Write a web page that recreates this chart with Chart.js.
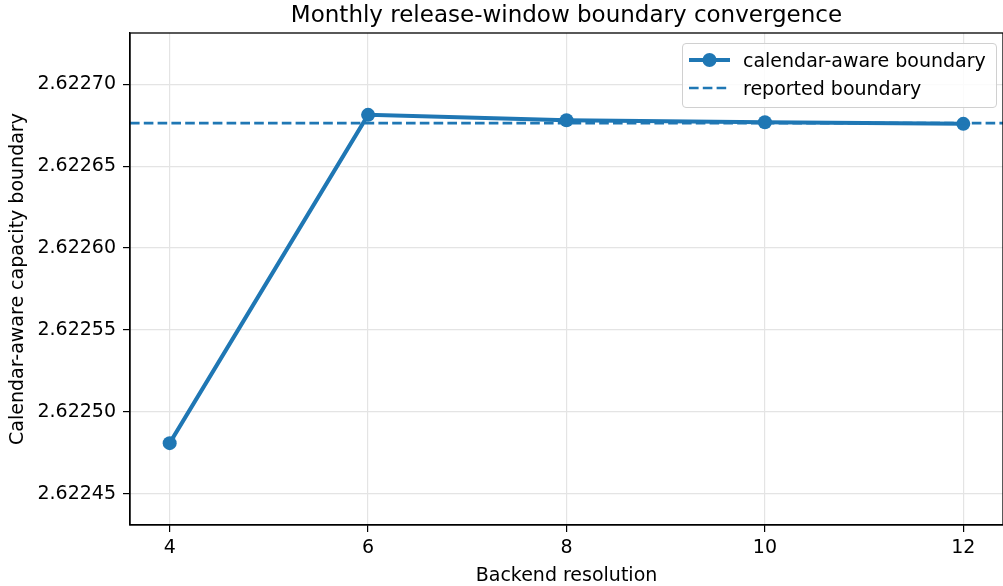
<!DOCTYPE html>
<html>
<head>
<meta charset="utf-8">
<script src="https://cdn.jsdelivr.net/npm/chart.js@4.4.1/dist/chart.umd.min.js"></script>
<style>
  html, body { margin: 0; padding: 0; background: #fff; overflow: hidden; }
  #marco { position: relative; width: 1003px; height: 586px; overflow: hidden; }
  #grafico { position: absolute; left: 0; top: 0; }
  #leyenda {
    position: absolute; left: 682px; top: 43px; width: 313px; height: 63px;
    border: 1px solid #d0d0d0; border-radius: 4px; background: rgba(255,255,255,0.85);
    font-family: "DejaVu Sans"; font-size: 19px; color: #000;
  }
  .fila { position: absolute; left: 0; height: 24px; width: 100%; }
  .fila svg { position: absolute; left: 5px; top: 0; }
  .fila span { position: absolute; left: 60px; top: 0; line-height: 24px; white-space: nowrap; }
</style>
</head>
<body>
<div id="marco">
  <canvas id="grafico" width="1010" height="586"></canvas>
  <div id="leyenda">
    <div class="fila" style="top:4px">
      <svg width="44" height="24"><line x1="1" y1="12" x2="42" y2="12" stroke="#1f77b4" stroke-width="4"/><circle cx="21.5" cy="12" r="7" fill="#1f77b4"/></svg>
      <span>calendar-aware boundary</span>
    </div>
    <div class="fila" style="top:32px">
      <svg width="44" height="24"><line x1="1" y1="12" x2="42" y2="12" stroke="#1f77b4" stroke-width="2.7" stroke-dasharray="9.6 4.2"/></svg>
      <span>reported boundary</span>
    </div>
  </div>
</div>
<script>
// datos
const resoluciones = [4, 6, 8, 10, 12];
const fronteras = [2.6224808, 2.6226813, 2.6226780, 2.6226768, 2.6226758];
const fronteraReportada = 2.6226762;

const xTicks = [4, 6, 8, 10, 12];
const yTicks = [2.62245, 2.62250, 2.62255, 2.62260, 2.62265, 2.62270];
const xLim = [3.6, 12.4];
const yLim = [2.6224308, 2.6227313];

const azul = "#1f77b4";
Chart.defaults.font.family = "DejaVu Sans";
Chart.defaults.color = "#000";

// marco completo alrededor del area (como matplotlib)
const bordeCaja = {
  id: "bordeCaja",
  afterDraw(chart) {
    const { ctx, chartArea: a } = chart;
    ctx.save();
    ctx.strokeStyle = "#000";
    ctx.lineWidth = 1.3;
    ctx.strokeRect(a.left, a.top, a.right - a.left, a.bottom - a.top);
    ctx.restore();
  },
};

const ctx = document.getElementById("grafico").getContext("2d");
new Chart(ctx, {
  type: "line",
  data: {
    datasets: [
      {
        label: "calendar-aware boundary",
        data: resoluciones.map((x, i) => ({ x: x, y: fronteras[i] })),
        borderColor: azul,
        backgroundColor: azul,
        borderWidth: 4,
        pointRadius: 7,
        pointHoverRadius: 7,
        pointBorderWidth: 0,
        tension: 0,
        order: 2,
      },
      {
        label: "reported boundary",
        data: xLim.map((x) => ({ x: x, y: fronteraReportada })),
        borderColor: azul,
        borderWidth: 2.7,
        borderDash: [9.6, 4.2],
        pointRadius: 0,
        tension: 0,
        order: 1,
      },
    ],
  },
  options: {
    responsive: false,
    animation: false,
    devicePixelRatio: 1,
    clip: false,
    layout: { padding: { left: 0, right: 2.5, top: 0, bottom: 0 } },
    plugins: {
      legend: { display: false },
      tooltip: { enabled: false },
      title: {
        display: true,
        text: "Monthly release-window boundary convergence",
        fullSize: false,
        color: "#000",
        font: { size: 23, weight: "normal" },
        padding: { top: 2, bottom: 3.4 },
      },
    },
    scales: {
      x: {
        type: "linear",
        min: xLim[0],
        max: xLim[1],
        afterBuildTicks: (s) => { s.ticks = xTicks.map((v) => ({ value: v })); },
        afterFit: (s) => { s.height = 61; },
        ticks: { font: { size: 19 }, padding: 5, maxRotation: 0, callback: (v) => String(v) },
        grid: { color: "#e4e4e4", lineWidth: 1.2, tickColor: "#000", tickLength: 7, tickWidth: 1.2 },
        border: { display: true, color: "#000", width: 1.3 },
        title: { display: true, text: "Backend resolution", font: { size: 19 }, padding: { top: 0, bottom: -1 } },
      },
      y: {
        type: "linear",
        min: yLim[0],
        max: yLim[1],
        afterBuildTicks: (s) => { s.ticks = yTicks.map((v) => ({ value: v })); },
        afterFit: (s) => { s.width = 130; },
        ticks: { font: { size: 19 }, padding: 7, callback: (v) => v.toFixed(5) },
        grid: { color: "#e4e4e4", lineWidth: 1.2, tickColor: "#000", tickLength: 7, tickWidth: 1.2 },
        border: { display: true, color: "#000", width: 1.3 },
        title: { display: true, text: "Calendar-aware capacity boundary", font: { size: 19 }, padding: { top: 7, bottom: 0 } },
      },
    },
  },
  plugins: [bordeCaja],
});
</script>
</body>
</html>
